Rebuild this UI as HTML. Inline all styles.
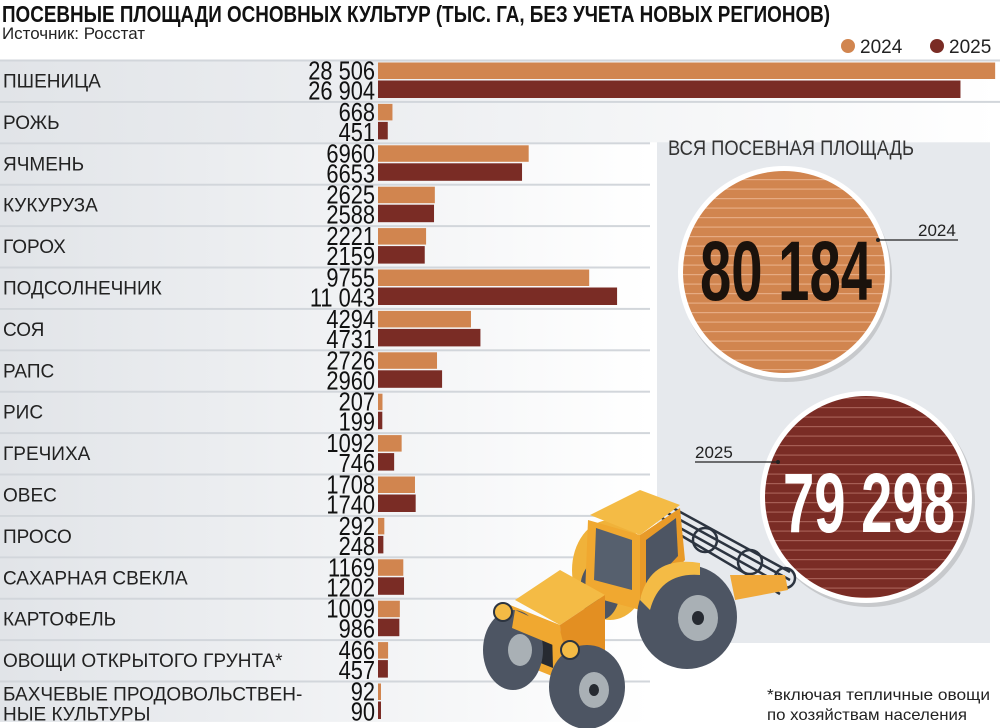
<!DOCTYPE html>
<html><head><meta charset="utf-8"><style>
html,body{margin:0;padding:0;background:#fff;}
svg{display:block;}
text{font-family:"Liberation Sans Narrow","Liberation Sans",sans-serif;}
</style></head><body>
<svg width="1000" height="728" viewBox="0 0 1000 728" xmlns="http://www.w3.org/2000/svg">
<defs>
<linearGradient id="rg" x1="0" x2="1" y1="0" y2="0">
<stop offset="0" stop-color="#e1e4e8"/><stop offset="1" stop-color="#ffffff"/>
</linearGradient>
<pattern id="st1" width="10" height="9.5" patternUnits="userSpaceOnUse"><rect width="10" height="9.5" fill="#d1854f"/><rect y="8" width="10" height="1.2" fill="#e6ab82"/></pattern>
<pattern id="st2" width="10" height="9.5" patternUnits="userSpaceOnUse"><rect width="10" height="9.5" fill="#7a2c25"/><rect y="8" width="10" height="1.2" fill="#a65e55"/></pattern>
</defs>

<text x="2" y="22" font-size="23" font-weight="bold" fill="#111" textLength="828" lengthAdjust="spacingAndGlyphs">ПОСЕВНЫЕ ПЛОЩАДИ ОСНОВНЫХ КУЛЬТУР (ТЫС. ГА, БЕЗ УЧЕТА НОВЫХ РЕГИОНОВ)</text>
<text x="2" y="39" font-size="17" fill="#222" font-family="Liberation Sans, sans-serif" textLength="143" lengthAdjust="spacingAndGlyphs">Источник: Росстат</text>

<circle cx="848" cy="46" r="7" fill="#d1854f"/><text x="860" y="53" font-size="19" fill="#222">2024</text>
<circle cx="937" cy="46" r="7" fill="#7a2c25"/><text x="949" y="53" font-size="19" fill="#222">2025</text>

<rect x="657" y="128" width="333" height="515" fill="#e6e9ed"/>

<g id="rows"></g>

<circle cx="786" cy="276" r="106" fill="#c7c9cc"/>
<circle cx="784" cy="272" r="106" fill="#fff"/>
<circle cx="784" cy="272" r="101" fill="url(#st1)"/>
<text x="700" y="300" font-size="84" font-weight="bold" fill="#1a120c" textLength="172" lengthAdjust="spacingAndGlyphs">80 184</text>
<line x1="878" y1="240" x2="958" y2="240" stroke="#222" stroke-width="1.2"/><circle cx="878" cy="240" r="2" fill="#222"/>
<text x="918" y="236" font-size="17" fill="#222">2024</text>

<circle cx="869" cy="501" r="106" fill="#c7c9cc"/>
<circle cx="866" cy="497" r="106" fill="#fff"/>
<circle cx="866" cy="497" r="101" fill="url(#st2)"/>
<text x="783" y="532" font-size="84" font-weight="bold" fill="#fff" textLength="172" lengthAdjust="spacingAndGlyphs">79 298</text>
<line x1="695" y1="462" x2="778" y2="462" stroke="#222" stroke-width="1.2"/><circle cx="778" cy="462" r="2" fill="#222"/>
<text x="695" y="458" font-size="17" fill="#222">2025</text>

<text x="668" y="155" font-size="21" fill="#333" textLength="246" lengthAdjust="spacingAndGlyphs">ВСЯ ПОСЕВНАЯ ПЛОЩАДЬ</text>

<g>
<g stroke="#2c3440" stroke-width="2.5" fill="none">
<line x1="662" y1="502" x2="790" y2="572"/><line x1="662" y1="510" x2="790" y2="580"/><line x1="662" y1="518" x2="788" y2="588"/><line x1="665" y1="526" x2="780" y2="594"/>
<circle cx="705" cy="540" r="12"/><circle cx="750" cy="562" r="12"/><circle cx="785" cy="578" r="10"/>
</g>
<polygon points="730,575 785,575 788,590 735,600" fill="#f0a93a"/>
<ellipse cx="610" cy="570" rx="38" ry="50" fill="#f0b23a"/>
<ellipse cx="600" cy="590" rx="20" ry="30" fill="#4d5563"/>
<polygon points="590,515 640,490 680,505 640,535" fill="#f4bb45"/>
<polygon points="588,520 640,535 640,610 585,595" fill="#f0a830"/>
<polygon points="596,528 632,540 632,590 594,580" fill="#56606e"/>
<polygon points="640,535 680,508 685,560 640,610" fill="#e89a28"/>
<polygon points="646,540 676,518 678,556 646,590" fill="#4d5563"/>
<polygon points="515,600 560,570 605,595 560,625" fill="#f4bb45"/>
<polygon points="510,605 560,625 562,680 512,660" fill="#f0a830"/>
<polygon points="560,625 605,595 605,650 562,680" fill="#e38f22"/>
<polygon points="516,618 552,632 553,668 518,654" fill="#262a31"/>
<ellipse cx="513" cy="650" rx="30" ry="40" fill="#4d5563"/>
<ellipse cx="520" cy="650" rx="12" ry="16" fill="#a9b0b5"/>
<polygon points="515,610 560,630 565,650 512,628" fill="#f0a830"/>
<ellipse cx="687" cy="617" rx="50" ry="52" fill="#4d5563"/>
<path d="M640,600 Q650,555 700,563 L700,575 Q660,572 650,610 Z" fill="#f4bb45"/>
<ellipse cx="698" cy="618" rx="20" ry="23" fill="#a9b0b5"/>
<ellipse cx="698" cy="618" rx="6" ry="7" fill="#262a31"/>
<ellipse cx="587" cy="687" rx="38" ry="42" fill="#4d5563"/>
<ellipse cx="594" cy="690" rx="15" ry="18" fill="#a9b0b5"/>
<ellipse cx="594" cy="690" rx="5" ry="6" fill="#262a31"/>
<circle cx="503" cy="612" r="9" fill="#f4bb45" stroke="#2c3440" stroke-width="2"/>
<circle cx="570" cy="650" r="9" fill="#f4bb45" stroke="#2c3440" stroke-width="2"/>
</g>

<text x="767" y="700" font-size="16" fill="#222" font-family="Liberation Sans, sans-serif" textLength="223" lengthAdjust="spacingAndGlyphs">*включая тепличные овощи</text>
<text x="767" y="720" font-size="16" fill="#222" font-family="Liberation Sans, sans-serif" textLength="200" lengthAdjust="spacingAndGlyphs">по хозяйствам населения</text>
</svg>
<script>
var d=[["ПШЕНИЦА",28506,26904,"28 506","26 904"],["РОЖЬ",668,451],["ЯЧМЕНЬ",6960,6653],["КУКУРУЗА",2625,2588],["ГОРОХ",2221,2159],["ПОДСОЛНЕЧНИК",9755,11043,"9755","11 043"],["СОЯ",4294,4731],["РАПС",2726,2960],["РИС",207,199],["ГРЕЧИХА",1092,746],["ОВЕС",1708,1740],["ПРОСО",292,248],["САХАРНАЯ СВЕКЛА",1169,1202],["КАРТОФЕЛЬ",1009,986],["ОВОЩИ ОТКРЫТОГО ГРУНТА*",466,457],["БАХЧЕВЫЕ ПРОДОВОЛЬСТВЕН-",92,90]];
var s="",k=0.02165;
for(var i=0;i<16;i++){var t=59.5+41.4*i,r=d[i];
s+='<rect x="0" y="'+t+'" width="'+(i<2?1000:650)+'" height="41.4" fill="url(#rg)"/>';
s+='<rect x="0" y="'+t+'" width="'+(i<2?1000:650)+'" height="2" fill="#d2d6db"/>';
var a=r[3]||String(r[1]),b=r[4]||String(r[2]);
s+='<rect x="378" y="'+(t+3)+'" width="'+Math.max(3,r[1]*k)+'" height="16.5" fill="#d1854f"/>';
s+='<rect x="378" y="'+(t+21)+'" width="'+Math.max(3,r[2]*k)+'" height="17.5" fill="#7a2c25"/>';
s+='<g transform="translate(375,0) scale(0.84,1)"><text x="0" y="'+(t+20)+'" font-size="26" fill="#111" text-anchor="end">'+a+'</text>';
s+='<text x="0" y="'+(t+40)+'" font-size="26" fill="#111" text-anchor="end">'+b+'</text></g>';
if(i<15)s+='<text x="3" y="'+(t+28)+'" font-size="19" fill="#222" font-family="Liberation Sans, sans-serif">'+r[0]+'</text>';
else{s+='<text x="3" y="'+(t+20)+'" font-size="19" fill="#222" font-family="Liberation Sans, sans-serif">'+r[0]+'</text>';
s+='<text x="3" y="'+(t+40)+'" font-size="19" fill="#222" font-family="Liberation Sans, sans-serif">НЫЕ КУЛЬТУРЫ</text>';}
}
document.getElementById("rows").innerHTML=s;
</script>
</body></html>
